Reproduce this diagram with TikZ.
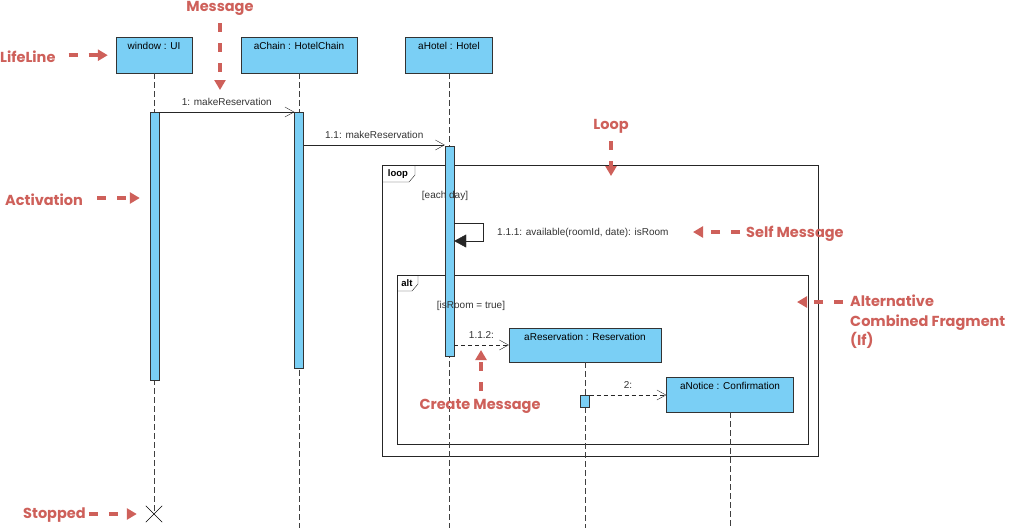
\documentclass[tikz,border=0pt]{standalone}
\usepackage{fontspec}
\setmainfont{Liberation Sans}
\newfontfamily\notefont{Poppins}
\usetikzlibrary{arrows.meta,shapes.misc,positioning}

\definecolor{lifeblue}{RGB}{122,207,245}
\definecolor{notered}{RGB}{206,96,90}

\tikzset{
	head/.style={draw=black!80, fill=lifeblue, anchor=north, inner sep=0pt, text height=12pt, text depth=24pt, font=\fontsize{10}{12}\selectfont},
	lifeline/.style={draw=black!75, dash pattern=on 6pt off 3pt},
	act/.style={draw=black!80, fill=lifeblue, anchor=north, inner sep=0pt, minimum width=9pt},
	msg/.style={draw=black!85, -{Straight Barb[length=9pt,width=10pt]}},
	create/.style={msg, dash pattern=on 4pt off 3pt},
	selfmsg/.style={draw=black!85, -{Triangle[length=12pt,width=13pt]}},
	frame/.style={draw=black!85},
	tag/.style={font=\fontsize{9.5}{11}\selectfont\bfseries},
	lbl/.style={text=black!80, font=\fontsize{10}{12}\selectfont},
	note/.style={text=notered, inner sep=0pt, font=\notefont\bfseries\fontsize{14.5}{19.5}\selectfont},
	callout/.style={draw=notered, line width=3.5pt, dash pattern=on 9pt off 11pt, -{Triangle[length=10pt,width=11pt]}}
}

\begin{document}
\begin{tikzpicture}[x=1pt,y=-1pt]
	\useasboundingbox (0,0) rectangle (1010,528);

	% heads
	\node[head, minimum width=76pt] (ui) at (154,37) {window : UI};
	\node[head, minimum width=116pt] (chain) at (299,37) {aChain : HotelChain};
	\node[head, minimum width=87pt] (hotel) at (449,37) {aHotel : Hotel};

	% frames
	\draw[frame] (382,165) coordinate (loopnw) rectangle (818,456);
	\draw[frame] (loopnw) ++(0,17) -- ++(27,0) -- ++(6,-7) -- ++(0,-10);
	\node[tag] (looptag) at (398,174) {loop};
	\draw[frame] (397,275) coordinate (altnw) rectangle (808,444);
	\draw[frame] (altnw) ++(0,16) -- ++(15,0) -- ++(6,-7) -- ++(0,-9);
	\node[tag] (alttag) at (407,283) {alt};

	% lifelines
	\node[draw=black, cross out, minimum size=16pt, inner sep=0pt] (stop) at (154,514) {};
	\draw[lifeline] (ui.south) -- (stop.center);
	\draw[lifeline] (chain.south) -- (chain.south |- 0,528);
	\draw[lifeline] (hotel.south) -- (hotel.south |- 0,528);

	\node[head, minimum width=152pt, text depth=22pt] (resv) at (585,328) {aReservation : Reservation};
	\node[head, minimum width=127pt, text depth=23pt] (notice) at (730,377) {aNotice : Confirmation};
	\draw[lifeline] (resv.south) -- (resv.south |- 0,528);
	\draw[lifeline] (notice.south) -- (notice.south |- 0,528);

	% activations
	\node[act, minimum height=268pt] (uiact) at (154.5,112) {};
	\node[act, minimum height=256pt] (chainact) at (299,112) {};
	\node[act, minimum height=210pt] (hotelact) at (449.5,146) {};
	\node[act, minimum height=12pt] (resvact) at (585,395) {};

	% messages
	\draw[msg] (uiact.north east) -- (chainact.north west) node[lbl, midway, above=3pt] (m1) {1: makeReservation};
	\draw[msg] (chainact.east |- 0,145) -- (hotelact.west |- 0,145) node[lbl, midway, above=3pt] (m11) {1.1: makeReservation};
	\node[lbl] (eachday) at (445,196) {[each day]};
	\draw[selfmsg] (hotelact.east |- 0,223) -- ++(29,0) -- ++(0,18) -- (hotelact.east |- 0,241);
	\node[lbl, anchor=west, inner sep=0pt] (selflbl) at (497,233) {1.1.1: available(roomId, date): isRoom};
	\node[lbl] (isroom) at (471,306) {[isRoom = true]};
	\draw[create] (hotelact.east |- 0,345) -- (resv.west |- 0,345) node[lbl, midway, above=3pt] (m112) {1.1.2:};
	\draw[create] (resvact.north east) -- (notice.west |- resvact.north) node[lbl, midway, above=3pt] (m2) {2:};

	% notes
	\node[note] (msgnote) at (220,8) {Message};
	\node[note, anchor=west] (lifenote) at (0,57) {LifeLine};
	\node[note, anchor=west] (actnote) at (5,200) {Activation};
	\node[note, anchor=west] (stopnote) at (23,515) {Stopped};
	\node[note] (loopnote) at (611,126) {Loop};
	\node[note, anchor=west] (selfnote) at (746,234) {Self Message};
	\node[note, anchor=north west, align=left] (altnote) at (850,295) {Alternative\\Combined Fragment\\(If)};
	\node[note] (createnote) at (480,406) {Create Message};

	\coordinate (looptip) at (611,176);
	\coordinate (alttip) at (797,302);
	\coordinate (createtip) at (481,350);

	\draw[callout, shorten <=8pt] (msgnote.south) -- (msgnote.south |- 0,90);
	\draw[callout, shorten <=13pt, shorten >=8pt] (lifenote.east |- ui.west) -- (ui.west);
	\draw[callout, shorten <=14pt, shorten >=10pt] (actnote.east |- 0,198) -- (uiact.west |- 0,198);
	\draw[callout, shorten <=3pt, shorten >=9pt] (stopnote.east |- stop.west) -- (stop.west);
	\draw[callout, shorten <=8pt] (loopnote.south) -- (looptip);
	\draw[callout, shorten <=6pt] (selfnote.west |- 0,232) -- (693,232);
	\draw[callout, shorten <=7pt] (altnote.north west |- alttip) -- (alttip);
	\draw[callout, shorten <=8pt] (createnote.north -| createtip) -- (createtip);
\end{tikzpicture}
\end{document}
